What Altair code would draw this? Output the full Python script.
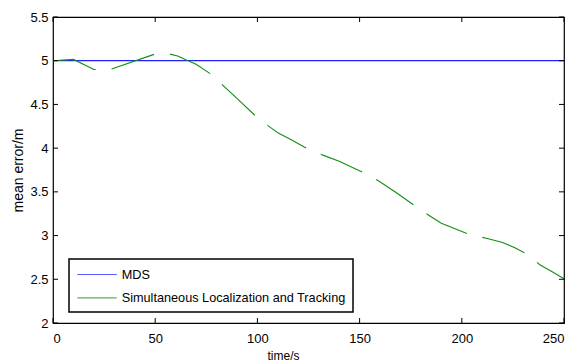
import altair as alt
import pandas as pd

# ---- data ----
mds_t = [0, 250]
mds_err = [5.0, 5.0]

slat_t = [0, 10, 20, 28, 50, 57, 61, 65, 70, 77, 83, 90, 99, 105, 110, 117, 124,
          132, 140, 152, 159, 168, 177, 184, 190, 197, 204, 212, 220, 226, 232,
          238, 244, 250]
slat_err = [5.0, 5.015, 4.9, 4.9, 5.077, 5.077, 5.054, 5.01, 4.96, 4.85, 4.72,
            4.57, 4.37, 4.26, 4.175, 4.09, 4.0, 3.92, 3.85, 3.72, 3.63, 3.49,
            3.34, 3.23, 3.14, 3.075, 3.01, 2.97, 2.92, 2.86, 2.786, 2.67, 2.59,
            2.507]

series_names = ["MDS", "Simultaneous Localization and Tracking"]
series_colors = ["#2020ff", "#109010"]

x_ticks = [0, 50, 100, 150, 200, 250]
y_ticks = [2, 2.5, 3, 3.5, 4, 4.5, 5, 5.5]

W, H = 511, 306
FONT = "Liberation Sans"

mds_df = pd.DataFrame({"t": mds_t, "err": mds_err, "series": series_names[0]})
slat_df = pd.DataFrame({"t": slat_t, "err": slat_err, "series": series_names[1]})
xt_df = pd.DataFrame({"v": x_ticks})
yt_df = pd.DataFrame({"v": y_ticks})

xscale = alt.Scale(domain=[0, 250], nice=False, zero=False)
yscale = alt.Scale(domain=[2, 5.5], nice=False, zero=False)
cscale = alt.Scale(domain=series_names, range=series_colors)

xaxis = alt.Axis(values=x_ticks, ticks=False, domain=False, grid=False,
                 labelPadding=9, labelFontSize=13, labelFont=FONT, labelColor="black",
                 title="time/s", titleFont=FONT, titleFontSize=12,
                 titleFontWeight="normal", titleColor="black", titlePadding=5,
                 titleX=230)
yaxis = alt.Axis(values=y_ticks, ticks=False, domain=False, grid=False, format="~g",
                 labelPadding=5, labelFontSize=13, labelFont=FONT, labelColor="black",
                 title="mean error/m", titleFont=FONT, titleFontSize=14,
                 titleFontWeight="normal", titleColor="black", titlePadding=4)

D = 16  # legend symbol unit
legend = alt.Legend(title=None, orient="none", legendX=16, legendY=242,
                    direction="vertical", fillColor="white", strokeColor="black",
                    padding=7, labelFont=FONT, labelFontSize=12.7, labelColor="black",
                    symbolType="M-1,0H3.875", symbolSize=D * D, symbolStrokeWidth=1,
                    symbolDash=[1, 0], symbolOffset=1, labelOffset=27.7, rowPadding=7.4,
                    labelLimit=400)

mds_line = alt.Chart(mds_df).mark_line(strokeWidth=1.3).encode(
    x=alt.X("t:Q", scale=xscale, axis=xaxis),
    y=alt.Y("err:Q", scale=yscale, axis=yaxis),
    color=alt.Color("series:N", scale=cscale, legend=legend, sort=series_names),
)

slat_line = alt.Chart(slat_df).mark_line(strokeWidth=1.1, strokeDash=[45, 16]).encode(
    x=alt.X("t:Q", scale=xscale),
    y=alt.Y("err:Q", scale=yscale),
    color=alt.Color("series:N", scale=cscale, sort=series_names),
)

tk = dict(color="black", strokeWidth=1)
bottom_ticks = alt.Chart(xt_df).mark_rule(**tk).encode(
    x=alt.X("v:Q", scale=xscale), y=alt.value(H), y2=alt.value(H - 5))
top_ticks = alt.Chart(xt_df).mark_rule(**tk).encode(
    x=alt.X("v:Q", scale=xscale), y=alt.value(0), y2=alt.value(5))
left_ticks = alt.Chart(yt_df).mark_rule(**tk).encode(
    y=alt.Y("v:Q", scale=yscale), x=alt.value(0), x2=alt.value(5))
right_ticks = alt.Chart(yt_df).mark_rule(**tk).encode(
    y=alt.Y("v:Q", scale=yscale), x=alt.value(W), x2=alt.value(W - 5))

chart = alt.layer(
    mds_line, slat_line, bottom_ticks, top_ticks, left_ticks, right_ticks
).properties(
    width=W, height=H,
    autosize=alt.AutoSizeParams(type="none"),
    padding={"left": 53, "top": 17, "right": 12, "bottom": 40},
    background="white",
).configure_view(
    stroke="black", strokeWidth=1.2
).configure_legend(
    strokeWidth=1.5, cornerRadius=0
)

chart.save("out.html", embed_options={"renderer": "svg", "actions": False})
